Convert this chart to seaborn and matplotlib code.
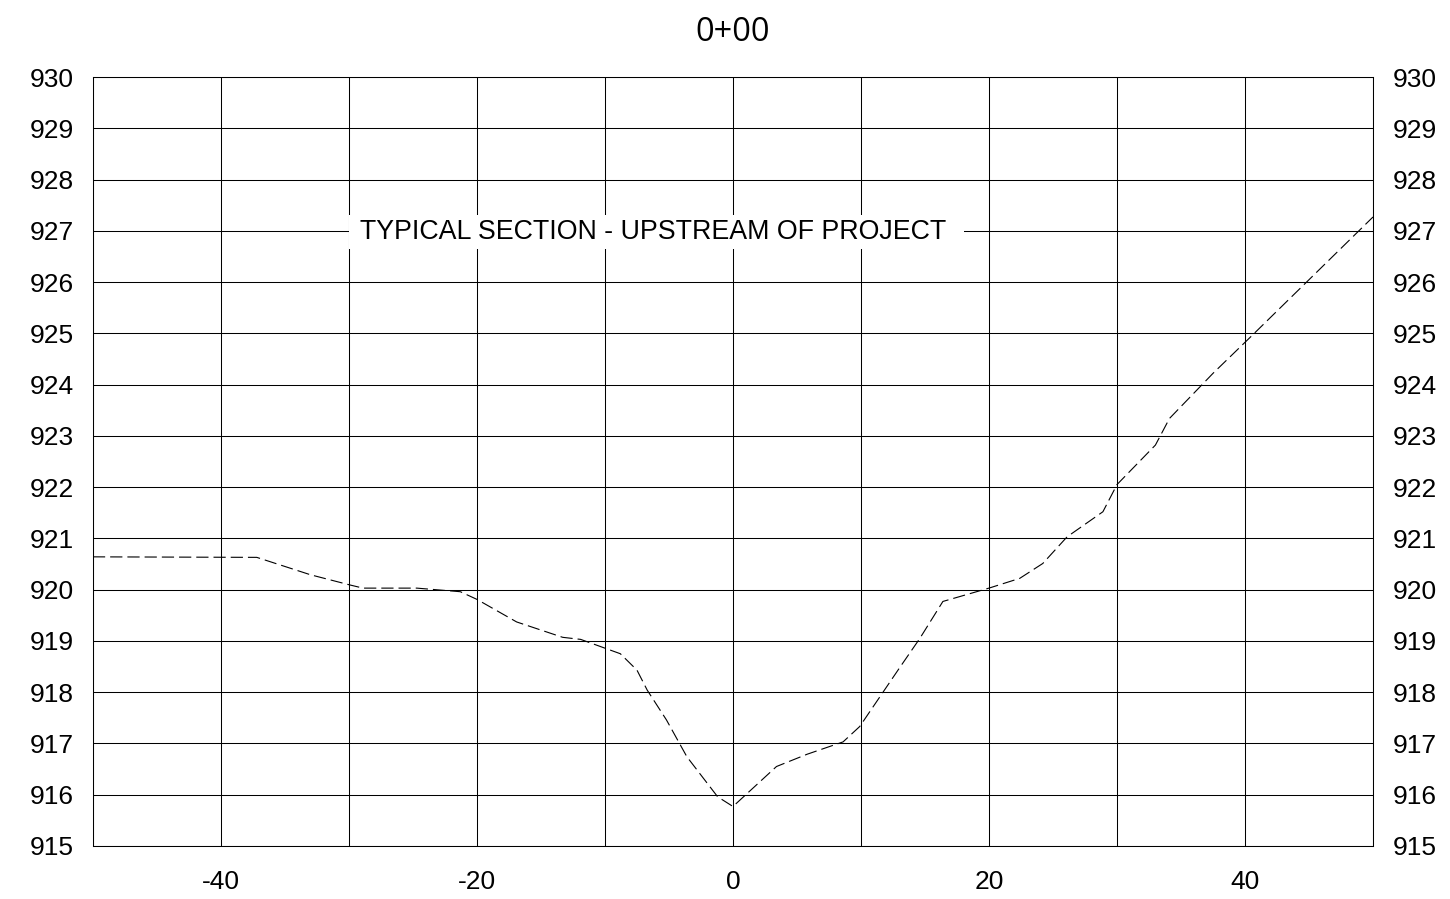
import pandas as pd
import matplotlib.pyplot as plt
import matplotlib.ticker as ticker
import seaborn as sns

# section profile (offset from centerline, elevation)
offset = [-50, -37.2, -33.0, -29.9, -28.9, -24.7, -21.3, -20.0, -16.9, -13.3,
          -11.9, -8.8, -7.5, -6.7, -5.2, -3.6, -1.2, 0.0, 3.4, 5.8,
          8.6, 9.9, 13.0, 14.6, 16.4, 20.0, 22.4, 24.2, 26.1, 28.9,
          30.0, 33.0, 34.1, 37.5, 40.6, 50.0]
elevation = [920.64, 920.63, 920.29, 920.09, 920.03, 920.03, 919.96, 919.81, 919.37, 919.07,
             919.03, 918.75, 918.43, 918.04, 917.46, 916.74, 915.96, 915.77, 916.55, 916.79,
             917.03, 917.33, 918.47, 919.05, 919.77, 920.03, 920.22, 920.51, 921.03, 921.52,
             922.05, 922.82, 923.34, 924.22, 924.97, 927.27]

title = "0+00"
note = "TYPICAL SECTION - UPSTREAM OF PROJECT"
x_ticks = [-40, -20, 0, 20, 40]

df = pd.DataFrame({"offset": offset, "elevation": elevation})

sns.set_style("white")
plt.rcParams['font.family'] = ['Liberation Sans', 'DejaVu Sans']
plt.rcParams['axes.unicode_minus'] = False
plt.rcParams['text.color'] = 'black'
plt.rcParams['xtick.color'] = 'black'
plt.rcParams['ytick.color'] = 'black'

fig = plt.figure(figsize=(14.5, 8.99), dpi=100)
ax = fig.add_axes([0.0641, 0.0590, 0.8828, 0.8553])

sns.lineplot(data=df, x="offset", y="elevation", ax=ax, sort=False,
             color="black", linewidth=0.8)
ax.lines[0].set_dashes((11, 4.5))

ax.set_xlim(-50, 50)
ax.set_ylim(915, 930)
ax.set_xticks(x_ticks)
ax.yaxis.set_major_locator(ticker.MultipleLocator(1))
ax.xaxis.set_minor_locator(ticker.MultipleLocator(10))
ax.grid(True, which="both", color="black", linewidth=0.75)
ax.set_axisbelow(True)
for s in ax.spines.values():
    s.set_color("black")
    s.set_linewidth(0.75)

ax.tick_params(axis="both", which="both", length=0, labelsize=19)
ax.tick_params(axis="y", pad=14, labelright=True)
ax.tick_params(axis="x", pad=17)
ax.set_xlabel("")
ax.set_ylabel("")

ax.set_title(title, fontsize=23.5, family=["Open Sans", "DejaVu Sans"], pad=26)

# leading/trailing spaces widen the white box like the original
ax.text(-29.7, 926.97, " " + note + "  ", fontsize=19.3, ha="left", va="center", zorder=3,
        bbox=dict(facecolor="white", edgecolor="none", boxstyle="square,pad=0.15"))

fig.savefig("out.png", dpi=100)
